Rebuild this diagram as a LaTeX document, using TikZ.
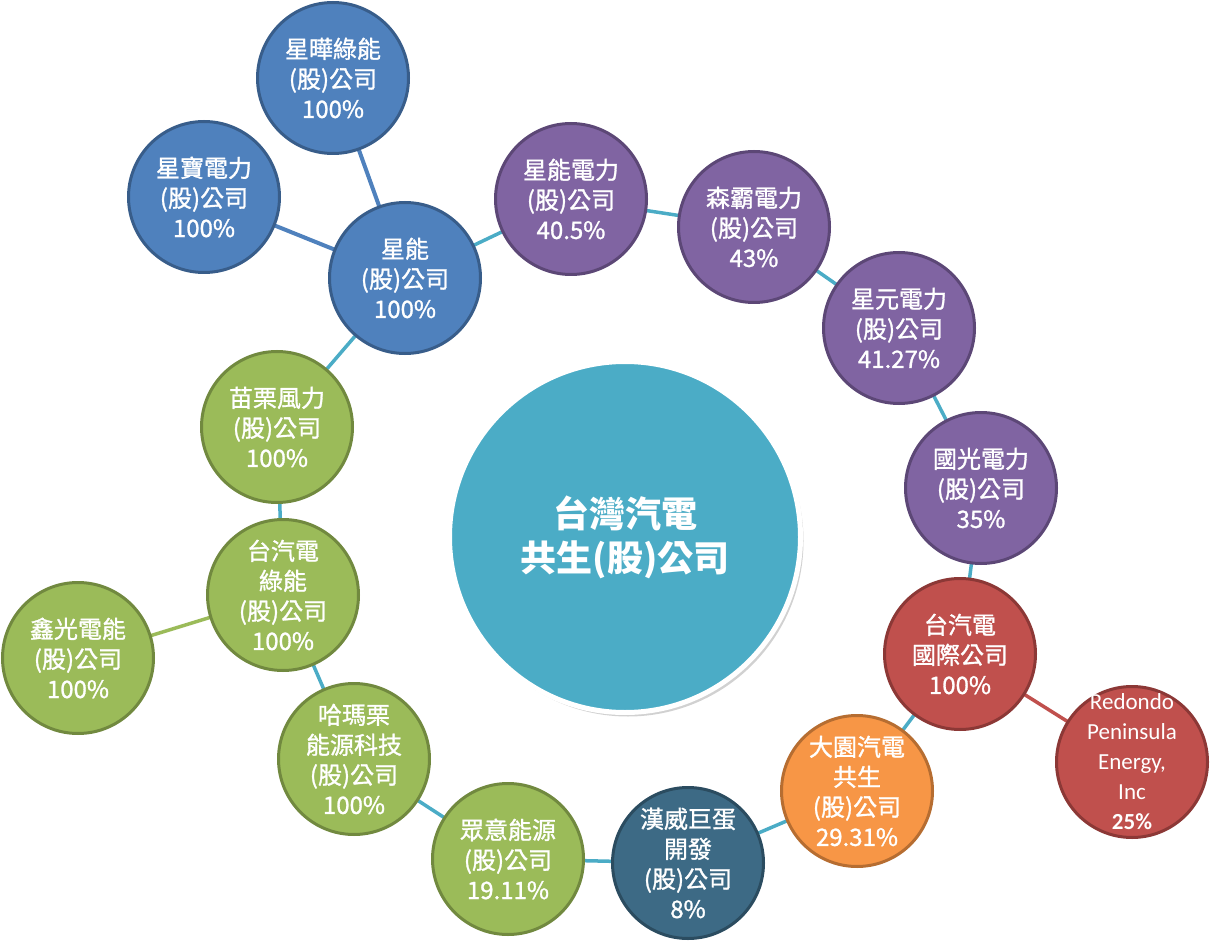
\documentclass[tikz,border=0pt]{standalone}
\usepackage{fontspec}
\setmainfont{Noto Sans CJK TC}
\newfontfamily\medfont{Noto Sans CJK TC}[FakeBold=1.2]
\newfontfamily\latfont{Carlito}
\usetikzlibrary{shadows,backgrounds}
\definecolor{cTeal}{HTML}{4BACC6}
\definecolor{cBlue}{HTML}{4F81BD}
\definecolor{cBlueD}{HTML}{385D8A}
\definecolor{cPur}{HTML}{8064A2}
\definecolor{cPurD}{HTML}{5C4776}
\definecolor{cGrn}{HTML}{9BBB59}
\definecolor{cGrnD}{HTML}{71893F}
\definecolor{cRed}{HTML}{C0504D}
\definecolor{cRedD}{HTML}{8C3836}
\definecolor{cOra}{HTML}{F79646}
\definecolor{cOraD}{HTML}{B66D31}
\definecolor{cDk}{HTML}{3D6A85}
\definecolor{cDkD}{HTML}{2B4C60}
\begin{document}
\begin{tikzpicture}[x=1pt,y=-1pt,
  co/.style={circle, minimum size=151pt, inner sep=0pt, line width=3pt},
  blu/.style={co, fill=cBlue, draw=cBlueD},
  pur/.style={co, fill=cPur, draw=cPurD},
  grn/.style={co, fill=cGrn, draw=cGrnD},
  red/.style={co, fill=cRed, draw=cRedD},
  ora/.style={co, fill=cOra, draw=cOraD},
  dk/.style={co, fill=cDk, draw=cDkD},
  lab/.style={align=center, text=white, font=\medfont\fontsize{24}{30}\selectfont, inner sep=0pt},
  tline/.style={draw=cTeal, line width=3.5pt},
  bline/.style={draw=cBlue, line width=4pt},
  gline/.style={draw=cGrn, line width=3.5pt},
  rline/.style={draw=cRed, line width=3.5pt}
]
\useasboundingbox (0,0) rectangle (1213,941);

\node[circle, minimum size=351pt, inner sep=0pt, fill=cTeal, draw=white, line width=5pt,
  drop shadow={shadow xshift=3pt, shadow yshift=-4pt, opacity=0.3, fill=black!60},
  text=white, align=center, font=\fontsize{36}{44}\selectfont\bfseries] (main) at (625,537) {台灣汽電\\共生(股)公司};

\node[blu, label={[lab]center:{星曄綠能\\(股)公司\\100\%}}] (xh) at (333,78) {};
\node[blu, label={[lab]center:{星寶電力\\(股)公司\\100\%}}] (xb) at (204,197) {};
\node[blu, label={[lab]center:{星能\\(股)公司\\100\%}}] (xn) at (405,278) {};
\node[pur, label={[lab]center:{星能電力\\(股)公司\\40.5\%}}] (xd) at (571,199) {};
\node[pur, label={[lab]center:{森霸電力\\(股)公司\\43\%}}] (sb) at (754,227) {};
\node[pur, label={[lab]center:{星元電力\\(股)公司\\41.27\%}}] (xy) at (899,328) {};
\node[pur, label={[lab]center:{國光電力\\(股)公司\\35\%}}] (gg) at (981,488) {};
\node[red, label={[lab]center:{台汽電\\國際公司\\100\%}}] (gj) at (960,654) {};
\node[red, label={[lab,font=\latfont\fontsize{23}{30}\selectfont]center:{Redondo\\Peninsula\\Energy,\\Inc\\\textbf{25\%}}}] (rd) at (1132,762) {};
\node[ora, label={[lab]center:{大園汽電\\共生\\(股)公司\\29.31\%}}] (dy) at (857,791) {};
\node[dk, label={[lab]center:{漢威巨蛋\\開發\\(股)公司\\8\%}}] (hw) at (688,863) {};
\node[grn, label={[lab]center:{眾意能源\\(股)公司\\19.11\%}}] (zy) at (508,859) {};
\node[grn, label={[lab]center:{哈瑪栗\\能源科技\\(股)公司\\100\%}}] (hm) at (354,759) {};
\node[grn, label={[lab]center:{台汽電\\綠能\\(股)公司\\100\%}}] (lv) at (283,595) {};
\node[grn, label={[lab]center:{鑫光電能\\(股)公司\\100\%}}] (xg) at (78,658) {};
\node[grn, label={[lab]center:{苗栗風力\\(股)公司\\100\%}}] (ml) at (277,427) {};

\begin{scope}[on background layer]
\draw[tline] (xn.center) -- (ml.center);
\draw[tline] (ml.center) -- (lv.center);
\draw[tline] (lv.center) -- (hm.center);
\draw[tline] (hm.center) -- (zy.center);
\draw[tline] (zy.center) -- (hw.center);
\draw[tline] (hw.center) -- (dy.center);
\draw[tline] (dy.center) -- (gj.center);
\draw[tline] (gj.center) -- (gg.center);
\draw[tline] (gg.center) -- (xy.center);
\draw[tline] (xy.center) -- (sb.center);
\draw[tline] (sb.center) -- (xd.center);
\draw[tline] (xd.center) -- (xn.center);
\draw[bline] (xn.center) -- (xb.center);
\draw[bline] (xn.center) -- (xh.center);
\draw[gline] (lv.center) -- (xg.center);
\draw[rline] (gj.center) -- (rd.center);
\end{scope}
\end{tikzpicture}
\end{document}
